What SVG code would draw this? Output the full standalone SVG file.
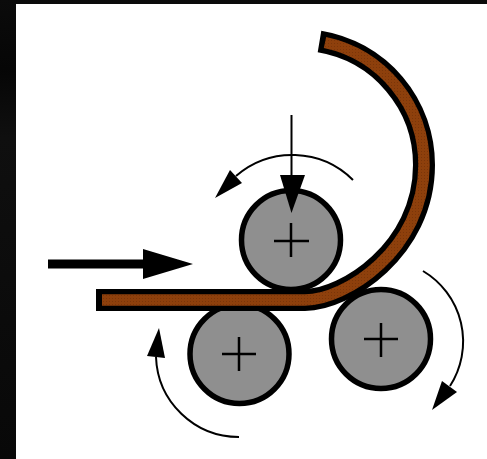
<svg xmlns="http://www.w3.org/2000/svg" width="487" height="459" viewBox="0 0 487 459">
<style>
.roller{fill:#8f8f8f;stroke:#000;stroke-width:5.5}
.cross{fill:none;stroke:#000;stroke-width:2.5}
.thin{fill:none;stroke:#000;stroke-width:2}
.head{fill:#000;stroke:none}
</style>
<defs>
<linearGradient id="bg" x1="0" y1="0" x2="0" y2="1">
<stop offset="0" stop-color="#0b0b0b"/><stop offset="0.15" stop-color="#060606"/><stop offset="0.3" stop-color="#0f0f0f"/><stop offset="1" stop-color="#080808"/>
</linearGradient>
<pattern id="speckle" width="3" height="3" patternUnits="userSpaceOnUse">
<rect width="3" height="3" fill="#8e400c"/><rect x="1" y="1" width="1" height="1" fill="#7a3509"/>
</pattern>
</defs>
<rect id="background" x="0" y="0" width="487" height="459" fill="url(#bg)"/>
<rect id="sheet" x="16" y="4" width="471" height="455" fill="#fff"/>
<g id="roller-top"><circle class="roller" cx="291" cy="240" r="49.500"/><path class="cross" d="M274 241H309M291 223V257"/></g>
<g id="roller-left"><circle class="roller" cx="239.500" cy="354" r="49.500"/><path class="cross" d="M222 354H256M239 337V371"/></g>
<g id="roller-right"><circle class="roller" cx="381" cy="339" r="49.500"/><path class="cross" d="M364 339H398M381 323V357"/></g>
<g id="workpiece" fill="none">
<path stroke="#000" stroke-width="22" d="M96 300H305C345 300 424 250 424 165A125 125 0 0 0 319.500 41.500"/>
<path stroke="url(#speckle)" stroke-width="11.500" d="M102 300H305C345 300 424 250 424 165A125 125 0 0 0 325 42.500"/>
</g>
<g id="connectors">
<path fill="#000" d="M48 259.500H143V249L193 264L143 279V268.500H48Z"/>
<path class="thin" d="M291.500 115V180"/>
<path class="head" d="M280 175H305L291.500 213Z"/>
<path class="thin" d="M353 180A86 86 0 0 0 236 176"/>
<path class="head" d="M230 170L242 183L215 198Z"/>
<path class="thin" d="M423 271A82 82 0 0 1 450 386"/>
<path class="head" d="M442 381L457 392L432 410Z"/>
<path class="thin" d="M239 437A83 83 0 0 1 156 357"/>
<path class="head" d="M147 356L165 358L159 328Z"/>
</g>
</svg>
